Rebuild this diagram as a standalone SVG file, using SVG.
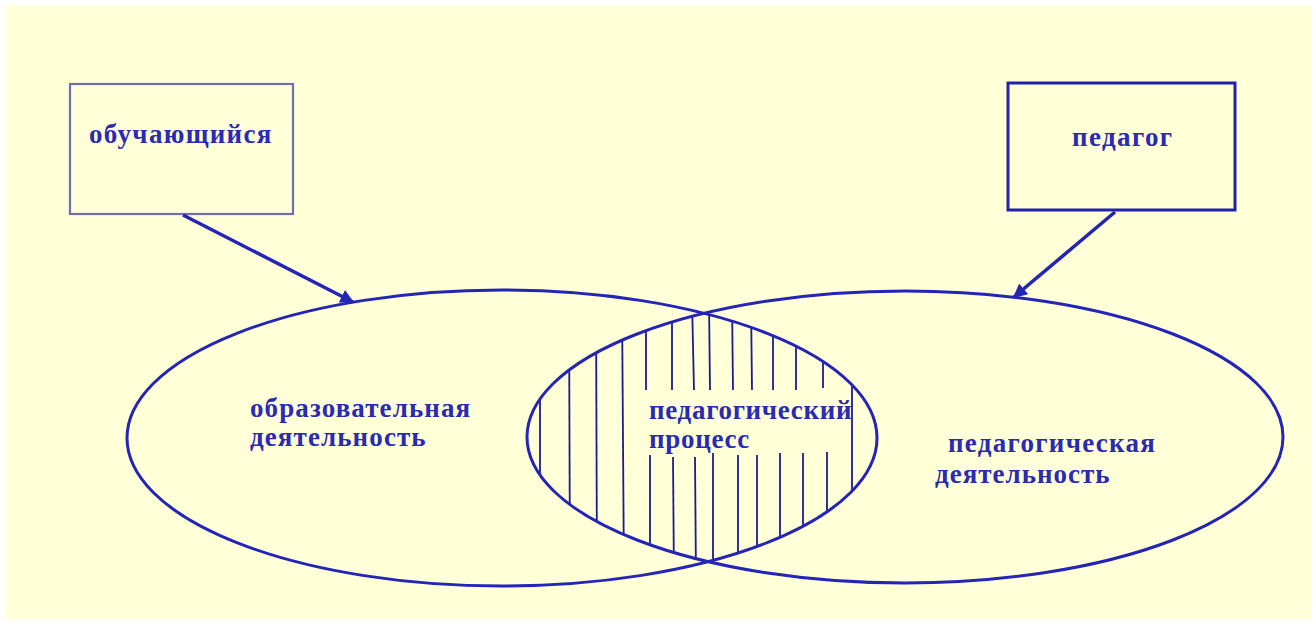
<svg xmlns="http://www.w3.org/2000/svg" width="1316" height="625" viewBox="0 0 1316 625">
<style>
.lbl{font-family:"Liberation Serif","Times New Roman",serif;font-weight:bold;font-size:27px;fill:#2a2ab4;letter-spacing:1.1px}
.ell{fill:none;stroke:#2424b8;stroke-width:3}
.hatch line{stroke:#1c1c90;stroke-width:1.8}
.conn{stroke:#2424b8;stroke-width:3.5;fill:none}
</style>
<defs>
<marker id="arr" viewBox="0 0 10 10" refX="9" refY="5" markerWidth="4" markerHeight="4" orient="auto" markerUnits="strokeWidth">
<path d="M0,0 L10,5 L0,10 z" fill="#2424b8"/>
</marker>
<clipPath id="lens">
<ellipse cx="502" cy="438" rx="375" ry="148"/>
</clipPath>
<clipPath id="lens2">
<ellipse cx="905" cy="437" rx="378" ry="146"/>
</clipPath>
</defs>
<rect width="1316" height="625" fill="#ffffff"/>
<rect x="5" y="5" width="1306" height="614" fill="#ffffd8"/>
<g id="hatching" class="hatch" clip-path="url(#lens)">
<g clip-path="url(#lens2)">
<line x1="540" y1="300" x2="540" y2="580"/>
<line x1="569" y1="300" x2="570" y2="580"/>
<line x1="596" y1="300" x2="597" y2="580"/>
<line x1="622" y1="300" x2="624" y2="580"/>
<line x1="646" y1="300" x2="646" y2="390"/>
<line x1="650" y1="455" x2="650" y2="580"/>
<line x1="672" y1="300" x2="672" y2="390"/>
<line x1="673" y1="457" x2="674" y2="580"/>
<line x1="692" y1="300" x2="694" y2="390"/>
<line x1="695" y1="457" x2="696" y2="580"/>
<line x1="709" y1="300" x2="710" y2="390"/>
<line x1="713" y1="453" x2="713" y2="580"/>
<line x1="732" y1="300" x2="733" y2="390"/>
<line x1="738" y1="455" x2="738" y2="580"/>
<line x1="751" y1="300" x2="752" y2="390"/>
<line x1="757" y1="455" x2="757" y2="580"/>
<line x1="773" y1="300" x2="773" y2="390"/>
<line x1="780" y1="453" x2="780" y2="580"/>
<line x1="796" y1="300" x2="796" y2="390"/>
<line x1="803" y1="453" x2="803" y2="580"/>
<line x1="823" y1="300" x2="823" y2="388"/>
<line x1="827" y1="452" x2="827" y2="580"/>
<line x1="852" y1="300" x2="852" y2="580"/>
</g>
</g>
<g id="ellipse-left">
<ellipse class="ell" cx="502" cy="438" rx="375" ry="148"/>
<text class="lbl" x="250" y="417">образовательная</text>
<text class="lbl" x="250" y="446">деятельность</text>
</g>
<g id="ellipse-right">
<ellipse class="ell" cx="905" cy="437" rx="378" ry="146"/>
<text class="lbl" x="948" y="452" style="letter-spacing:1.3px">педагогическая</text>
<text class="lbl" x="935" y="483" style="letter-spacing:1px">деятельность</text>
</g>
<g id="intersection">
<text class="lbl" x="649" y="419" style="letter-spacing:0.7px">педагогический</text>
<text class="lbl" x="649" y="448" style="letter-spacing:0.7px">процесс</text>
</g>
<g id="box-student">
<rect x="70" y="84" width="223" height="130" fill="none" stroke="#6e6eb4" stroke-width="2.2"/>
<text class="lbl" x="89" y="143" style="letter-spacing:1.3px">обучающийся</text>
</g>
<g id="box-teacher">
<rect x="1008" y="83" width="227" height="127" fill="none" stroke="#2020a8" stroke-width="3"/>
<text class="lbl" x="1072" y="146" style="letter-spacing:1.4px">педагог</text>
</g>
<g id="connectors">
<line class="conn" x1="183" y1="215" x2="353" y2="302" marker-end="url(#arr)"/>
<line class="conn" x1="1115" y1="212" x2="1014" y2="297" marker-end="url(#arr)"/>
</g>
</svg>
